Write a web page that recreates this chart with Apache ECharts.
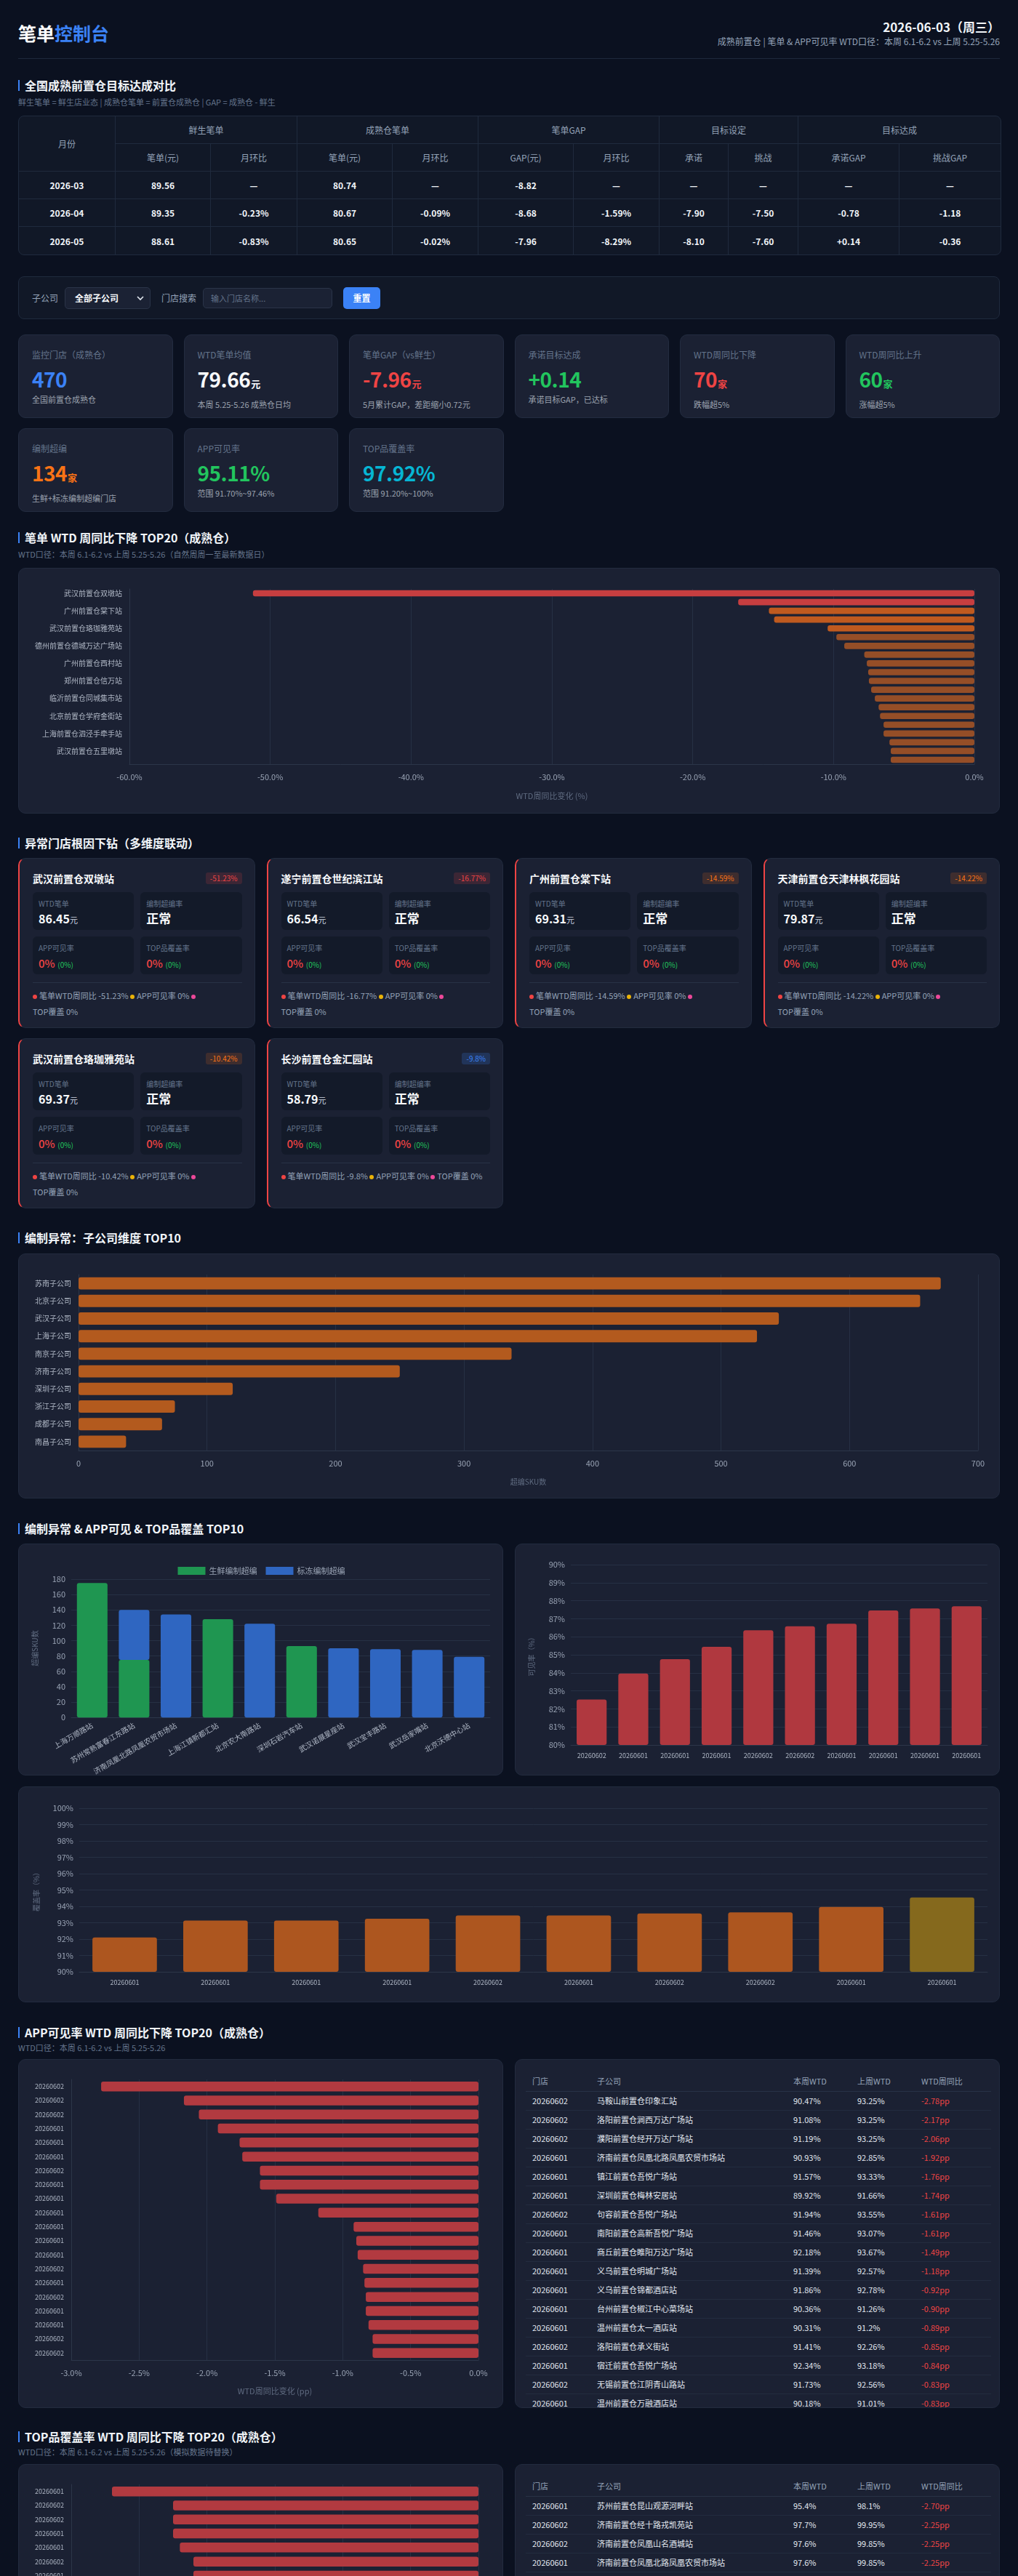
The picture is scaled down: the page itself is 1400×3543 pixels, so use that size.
<!DOCTYPE html>
<html lang="zh-CN">
<head>
<meta charset="utf-8">
<title>笔单控制台</title>
<script src="https://cdn.jsdelivr.net/npm/echarts@6/dist/echarts.min.js"></script>
<style>
*{box-sizing:border-box;margin:0;padding:0}
html,body{background:#0b1120}
body{width:1400px;height:3543px;overflow:hidden;padding:0 25px;font-family:"Noto Sans CJK SC","Noto Sans",sans-serif;color:#e5e7eb}
.header{height:81px;border-bottom:1px solid #1e293b;display:flex;justify-content:space-between}
.logo{padding-top:28px;font-size:25px;font-weight:700;line-height:34px;color:#fff}
.logo em{font-style:normal;color:#3b82f6}
.hright{text-align:right;padding-top:28px}
.hdate{font-size:17px;font-weight:700;line-height:18px;color:#f1f5f9}
.hsub{font-size:12px;line-height:14px;margin-top:4px;color:#94a3b8}
.sec{position:relative;font-size:16px;font-weight:700;line-height:20px;color:#f1f5f9;padding-left:9px}
.sec::before{content:"";position:absolute;left:0;top:3px;width:2px;height:15px;background:#3b82f6}
.sub{font-size:11px;line-height:14px;color:#64748b}
.panel{background:#1b2133;border:1px solid #222b3e;border-radius:10px;overflow:hidden}
.gtab{width:100%;border-collapse:separate;border-spacing:0;background:#111827;border:1px solid #1f2a3d;border-radius:8px;overflow:hidden;table-layout:fixed}
.gtab th,.gtab td{height:38px;text-align:center;border-right:1px solid #1f2a3d;border-bottom:1px solid #1f2a3d}
.gtab tr th:last-child,.gtab tr td:last-child{border-right:none}
.gtab tbody tr:last-child td{border-bottom:none}
.gtab th{font-size:12px;font-weight:400;color:#94a3b8}
.gtab td{font-size:12px;font-weight:700;color:#f1f5f9}
.filter{height:59px;background:#111827;border:1px solid #1f2a3d;border-radius:8px;display:flex;align-items:center;padding-left:18px}
.flabel{font-size:12px;color:#94a3b8}
.fselect{margin-left:9px;width:118px;height:30px;background:#1b2234;border:1px solid #2a3448;border-radius:5px;display:flex;align-items:center;justify-content:space-between;padding:0 8px 0 13px;font-size:12px;font-weight:700;color:#f8fafc}
.finput{margin-left:9px;width:178px;height:28px;background:#1b2234;border:1px solid #2a3448;border-radius:5px;display:flex;align-items:center;padding-left:10px;font-size:11px;color:#64748b}
.fbtn{margin-left:15px;width:51px;height:30px;background:#3b82f6;border-radius:5px;display:flex;align-items:center;justify-content:center;font-size:12px;font-weight:700;color:#fff}
.kpis{display:grid;grid-template-columns:repeat(6,1fr);gap:14px 15px}
.kpi{height:115px;background:#1b2133;border:1px solid #232c40;border-radius:10px;padding:19px 0 0 18px}
.kpi .kl{font-size:12px;line-height:16px;color:#64748b}
.kpi .kv{font-size:28px;font-weight:700;line-height:32px;margin-top:9px;letter-spacing:-0.5px}
.kpi .kv small{font-size:13px;font-weight:700;margin-left:1px}
.kpi .kn{font-size:11px;line-height:14px;margin-top:5px;color:#9ca3af}
.cards{display:grid;grid-template-columns:repeat(4,1fr);gap:14px 16px}
.card{height:234px;background:#1b2133;border:1px solid #222b3e;border-left:2px solid #ef4444;border-radius:10px;padding:17px 17px 0 18px}
.ctop{display:flex;justify-content:space-between;align-items:center;height:20px}
.ctitle{font-size:14px;font-weight:700;color:#f8fafc}
.badge{font-size:10px;line-height:16px;padding:0 6px;border-radius:3px}
.cgrid{display:grid;grid-template-columns:1fr 1fr;gap:9px;margin-top:9px}
.cbox{height:52px;background:#131a29;border-radius:6px;padding:10px 0 0 8px}
.cbox .bl{font-size:10px;line-height:12px;color:#64748b}
.cbox .bv{font-size:16px;font-weight:700;line-height:20px;margin-top:4px;color:#f8fafc}
.cbox .bv small{font-size:11px;font-weight:400;color:#cbd5e1}
.cbox .bv.big{font-size:17px}
.cbox .r{color:#ef4444;font-weight:500;font-size:15px}
.cbox .g{color:#22c55e;font-size:10px;font-weight:400}
.cfoot{margin-top:11px;border-top:1px solid #283246;padding-top:6px;font-size:11px;line-height:22px;color:#94a3b8}
.dot{display:inline-block;width:6px;height:6px;border-radius:50%;margin:0 3px 1px 0;vertical-align:middle}
.nw{white-space:nowrap}
.two{display:grid;grid-template-columns:1fr 1fr;gap:16px}
.ttab{width:100%;border-collapse:collapse;table-layout:fixed}
.ttab th{height:28px;text-align:left;font-size:11px;font-weight:400;color:#94a3b8;padding-left:9px;border-bottom:1px solid #283246}
.ttab td{height:26px;text-align:left;font-size:11px;color:#e2e8f0;padding-left:9px;border-bottom:1px solid #232c3f;white-space:nowrap}
.ttab td.neg{color:#ef4444}
</style>
</head>
<body>
<div class="header">
  <div class="logo">笔单<em>控制台</em></div>
  <div class="hright">
    <div class="hdate">2026-06-03（周三）</div>
    <div class="hsub">成熟前置仓 | 笔单 &amp; APP可见率 WTD口径：本周 6.1-6.2 vs 上周 5.25-5.26</div>
  </div>
</div>

<div class="sec" style="margin-top:26px">全国成熟前置仓目标达成对比</div>
<div class="sub" style="margin-top:6px">鲜生笔单 = 鲜生店业态 | 成熟仓笔单 = 前置仓成熟仓 | GAP = 成熟仓 - 鲜生</div>
<table class="gtab" id="goalTable" style="margin-top:12px">
  <colgroup><col style="width:133px"><col style="width:131px"><col style="width:119px"><col style="width:131px"><col style="width:118px"><col style="width:131px"><col style="width:118px"><col style="width:95px"><col style="width:96px"><col style="width:139px"><col style="width:139px"></colgroup>
  <thead></thead>
  <tbody></tbody>
</table>

<div class="filter" style="margin-top:29px">
  <span class="flabel">子公司</span>
  <div class="fselect">全部子公司<svg width="10" height="8" viewBox="0 0 10 8"><path d="M1 2 L5 6 L9 2" stroke="#e2e8f0" stroke-width="1.6" fill="none"/></svg></div>
  <span class="flabel" style="margin-left:15px">门店搜索</span>
  <div class="finput">输入门店名称...</div>
  <div class="fbtn">重置</div>
</div>

<div class="kpis" id="kpis" style="margin-top:21px"></div>

<div class="sec" style="margin-top:25px">笔单 WTD 周同比下降 TOP20（成熟仓）</div>
<div class="sub" style="margin-top:6px">WTD口径：本周 6.1-6.2 vs 上周 5.25-5.26（自然周周一至最新数据日）</div>
<div class="panel" style="margin-top:12px;height:338px"><div id="c1" style="width:1350px;height:338px"></div></div>

<div class="sec" style="margin-top:30px">异常门店根因下钻（多维度联动）</div>
<div class="cards" id="cards" style="margin-top:11px"></div>

<div class="sec" style="margin-top:30px">编制异常：子公司维度 TOP10</div>
<div class="panel" style="margin-top:12px;height:337px"><div id="c2" style="width:1350px;height:337px"></div></div>

<div class="sec" style="margin-top:31px">编制异常 &amp; APP可见 &amp; TOP品覆盖 TOP10</div>
<div class="two" style="margin-top:11px">
  <div class="panel" style="height:319px"><div id="c3" style="width:667px;height:319px"></div></div>
  <div class="panel" style="height:319px"><div id="c4" style="width:667px;height:319px"></div></div>
</div>
<div class="panel" style="margin-top:15px;height:297px"><div id="c5" style="width:1350px;height:297px"></div></div>

<div class="sec" style="margin-top:31px">APP可见率 WTD 周同比下降 TOP20（成熟仓）</div>
<div class="sub" style="margin-top:4px">WTD口径：本周 6.1-6.2 vs 上周 5.25-5.26</div>
<div class="two" style="margin-top:9px">
  <div class="panel" style="height:480px"><div id="c6" style="width:667px;height:480px"></div></div>
  <div class="panel" style="height:480px;padding:15px 14px 0"><table class="ttab" id="appTable"></table></div>
</div>

<div class="sec" style="margin-top:29px">TOP品覆盖率 WTD 周同比下降 TOP20（成熟仓）</div>
<div class="sub" style="margin-top:4px">WTD口径：本周 6.1-6.2 vs 上周 5.25-5.26（模拟数据待替换）</div>
<div class="two" style="margin-top:10px">
  <div class="panel" style="height:480px"><div id="c7" style="width:667px;height:480px"></div></div>
  <div class="panel" style="height:480px;padding:15px 14px 0"><table class="ttab" id="topTable"></table></div>
</div>

<script>
// ---- 目标达成对比 ----
var goalHead1 = ['鲜生笔单', '成熟仓笔单', '笔单GAP', '目标设定', '目标达成'];
var goalHead2 = ['笔单(元)', '月环比', '笔单(元)', '月环比', 'GAP(元)', '月环比', '承诺', '挑战', '承诺GAP', '挑战GAP'];
var goalMonths = ['2026-03', '2026-04', '2026-05'];
var freshOrder = ['89.56', '89.35', '88.61'];
var freshMom = ['—', '-0.23%', '-0.83%'];
var matureOrder = ['80.74', '80.67', '80.65'];
var matureMom = ['—', '-0.09%', '-0.02%'];
var gapValue = ['-8.82', '-8.68', '-7.96'];
var gapMom = ['—', '-1.59%', '-8.29%'];
var targetPromise = ['—', '-7.90', '-8.10'];
var targetChallenge = ['—', '-7.50', '-7.60'];
var promiseGap = ['—', '-0.78', '+0.14'];
var challengeGap = ['—', '-1.18', '-0.36'];

// ---- KPI ----
var kpiLabels = ['监控门店（成熟仓）', 'WTD笔单均值', '笔单GAP（vs鲜生）', '承诺目标达成', 'WTD周同比下降', 'WTD周同比上升', '编制超编', 'APP可见率', 'TOP品覆盖率'];
var kpiValues = ['470', '79.66', '-7.96', '+0.14', '70', '60', '134', '95.11%', '97.92%'];
var kpiUnits = ['', '元', '元', '', '家', '家', '家', '', ''];
var kpiNotes = ['全国前置仓成熟仓', '本周 5.25-5.26 成熟仓日均', '5月累计GAP，差距缩小0.72元', '承诺目标GAP，已达标', '跌幅超5%', '涨幅超5%', '生鲜+标冻编制超编门店', '范围 91.70%~97.46%', '范围 91.20%~100%'];
var kpiColors = ['#3b82f6', '#f8fafc', '#ef4444', '#22c55e', '#ef4444', '#22c55e', '#f97316', '#22c55e', '#06b6d4'];

// ---- 笔单 WTD 周同比下降 TOP20 ----
var wtdStores = ['武汉前置仓双墩站', '遂宁前置仓世纪滨江站', '广州前置仓棠下站', '天津前置仓天津林枫花园站', '武汉前置仓珞珈雅苑站', '长沙前置仓金汇园站', '德州前置仓德城万达广场站', '成都前置仓高新站', '广州前置仓西村站', '南京前置仓河西站', '郑州前置仓信万站', '济南前置仓历下站', '临沂前置仓同城集市站', '苏州前置仓园区站', '北京前置仓学府金街站', '深圳前置仓南山站', '上海前置仓泗泾手牵手站', '杭州前置仓滨江站', '武汉前置仓五里墩站', '西安前置仓雁塔站'];
var wtdChange = [-51.23, -16.77, -14.59, -14.22, -10.42, -9.8, -9.24, -7.82, -7.64, -7.54, -7.49, -7.33, -7.07, -6.80, -6.70, -6.45, -6.45, -6.03, -5.94, -5.94];

// ---- 异常门店根因下钻 ----
var alertStores = ['武汉前置仓双墩站', '遂宁前置仓世纪滨江站', '广州前置仓棠下站', '天津前置仓天津林枫花园站', '武汉前置仓珞珈雅苑站', '长沙前置仓金汇园站'];
var alertChange = [-51.23, -16.77, -14.59, -14.22, -10.42, -9.8];
var alertWtd = ['86.45', '66.54', '69.31', '79.87', '69.37', '58.79'];
var alertStaff = ['正常', '正常', '正常', '正常', '正常', '正常'];
var alertApp = ['0%', '0%', '0%', '0%', '0%', '0%'];
var alertTop = ['0%', '0%', '0%', '0%', '0%', '0%'];

// ---- 编制异常：子公司 TOP10 ----
var subCompanies = ['苏南子公司', '北京子公司', '武汉子公司', '上海子公司', '南京子公司', '济南子公司', '深圳子公司', '浙江子公司', '成都子公司', '南昌子公司'];
var subOverSku = [671, 655, 545, 528, 337, 250, 120, 75, 65, 37];

// ---- 编制超编门店 TOP10 ----
var overStores = ['上海万顺路站', '苏州常熟富春江东路站', '济南凤凰北路凤凰农贸市场站', '上海江镇新都汇站', '北京农大南路站', '深圳石岩汽车站', '武汉诺展星座站', '武汉宝丰路站', '武汉岳家嘴站', '北京沃德中心站'];
var overFresh = [175, 75, '-', 128, '-', 93, '-', '-', '-', '-'];
var overFrozen = ['-', 65, 134, '-', 122, '-', 90, 89, 88, 79];

// ---- APP可见率 TOP10（最低）----
var appLowDates = ['20260602', '20260601', '20260601', '20260601', '20260602', '20260602', '20260601', '20260601', '20260601', '20260601'];
var appLowRates = [82.52, 83.96, 84.76, 85.44, 86.36, 86.58, 86.72, 87.46, 87.57, 87.69];

// ---- TOP品覆盖率 TOP10（最低）----
var topLowDates = ['20260601', '20260601', '20260601', '20260601', '20260602', '20260601', '20260602', '20260602', '20260601', '20260601'];
var topLowRates = [92.10, 93.13, 93.13, 93.25, 93.45, 93.45, 93.57, 93.63, 93.97, 94.54];

// ---- APP可见率 WTD 周同比下降 TOP20 ----
var appDates = ['20260602', '20260602', '20260602', '20260601', '20260601', '20260601', '20260602', '20260601', '20260601', '20260601', '20260601', '20260601', '20260601', '20260602', '20260601', '20260602', '20260601', '20260601', '20260602', '20260602'];
var appStores = ['马鞍山前置仓印象汇站', '洛阳前置仓涧西万达广场站', '濮阳前置仓经开万达广场站', '济南前置仓凤凰北路凤凰农贸市场站', '镇江前置仓吾悦广场站', '深圳前置仓梅林安居站', '句容前置仓吾悦广场站', '南阳前置仓高新吾悦广场站', '商丘前置仓睢阳万达广场站', '义乌前置仓明城广场站', '义乌前置仓锦都酒店站', '台州前置仓椒江中心菜场站', '温州前置仓太一酒店站', '洛阳前置仓承义街站', '宿迁前置仓吾悦广场站', '无锡前置仓江阴青山路站', '温州前置仓万融酒店站', '徐州前置仓云龙万达站', '郑州前置仓金水路站', '合肥前置仓之心城站'];
var appThisWeek = [90.47, 91.08, 91.19, 90.93, 91.57, 89.92, 91.94, 91.46, 92.18, 91.39, 91.86, 90.36, 90.31, 91.41, 92.34, 91.73, 90.18, 91.55, 92.02, 91.20];
var appLastWeek = [93.25, 93.25, 93.25, 92.85, 93.33, 91.66, 93.55, 93.07, 93.67, 92.57, 92.78, 91.26, 91.2, 92.26, 93.18, 92.56, 91.01, 92.36, 92.80, 91.98];
var appChange = [-2.78, -2.17, -2.06, -1.92, -1.76, -1.74, -1.61, -1.61, -1.49, -1.18, -0.92, -0.90, -0.89, -0.85, -0.84, -0.83, -0.83, -0.81, -0.78, -0.78];

// ---- TOP品覆盖率 WTD 周同比下降 TOP20 ----
var topDates = ['20260601', '20260602', '20260602', '20260601', '20260601', '20260602', '20260601', '20260602', '20260601', '20260601', '20260602', '20260601', '20260601', '20260602', '20260601', '20260601', '20260602', '20260601', '20260601', '20260602'];
var topStores = ['苏州前置仓昆山观源河畔站', '济南前置仓经十路戎凯苑站', '济南前置仓凤凰山名酒城站', '济南前置仓凤凰北路凤凰农贸市场站', '徐州前置仓泉山万达广场站', '济南前置仓高新万达站', '苏州前置仓吴中万达站'];
var topThisWeek = [95.4, 97.7, 97.6, 97.6, 97.4, 97.8, 97.5];
var topLastWeek = [98.1, 99.95, 99.85, 99.85, 99.6, 99.9, 99.6];
var topChange = [-2.70, -2.25, -2.25, -2.25, -2.20, -2.10, -2.10, -2.05, -2.00, -1.96, -1.90, -1.85, -1.82, -1.80, -1.76, -1.72, -1.70, -1.66, -1.62, -1.60];

// ================= tables / cards =================
(function () {
	var t = document.getElementById('goalTable');
	var h = '<tr><th rowspan="2">月份</th>';
	goalHead1.forEach(function (s) { h += '<th colspan="2">' + s + '</th>'; });
	h += '</tr><tr>';
	goalHead2.forEach(function (s) { h += '<th>' + s + '</th>'; });
	t.tHead.innerHTML = h + '</tr>';
	var b = '';
	for (var i = 0; i < goalMonths.length; i++) {
		var cells = [goalMonths[i], freshOrder[i], freshMom[i], matureOrder[i], matureMom[i], gapValue[i], gapMom[i], targetPromise[i], targetChallenge[i], promiseGap[i], challengeGap[i]];
		b += '<tr>' + cells.map(function (c) { return '<td>' + c + '</td>'; }).join('') + '</tr>';
	}
	t.tBodies[0].innerHTML = b;

	var k = '';
	for (var j = 0; j < kpiLabels.length; j++) {
		k += '<div class="kpi"><div class="kl">' + kpiLabels[j] + '</div>' +
			'<div class="kv" style="color:' + kpiColors[j] + '">' + kpiValues[j] + (kpiUnits[j] ? '<small>' + kpiUnits[j] + '</small>' : '') + '</div>' +
			'<div class="kn">' + kpiNotes[j] + '</div></div>';
	}
	document.getElementById('kpis').innerHTML = k;

	var c = '';
	for (var n = 0; n < alertStores.length; n++) {
		var v = alertChange[n];
		var bc = v <= -15 ? ['#ef4444', 'rgba(239,68,68,0.16)'] : (v <= -10 ? ['#f97316', 'rgba(249,115,22,0.16)'] : ['#3b82f6', 'rgba(59,130,246,0.2)']);
		var pct = v + '%';
		c += '<div class="card"><div class="ctop"><span class="ctitle">' + alertStores[n] + '</span>' +
			'<span class="badge" style="color:' + bc[0] + ';background:' + bc[1] + '">' + pct + '</span></div>' +
			'<div class="cgrid">' +
			'<div class="cbox"><div class="bl">WTD笔单</div><div class="bv">' + alertWtd[n] + '<small>元</small></div></div>' +
			'<div class="cbox"><div class="bl">编制超编率</div><div class="bv big">' + alertStaff[n] + '</div></div>' +
			'<div class="cbox"><div class="bl">APP可见率</div><div class="bv"><span class="r">' + alertApp[n] + '</span> <span class="g">(0%)</span></div></div>' +
			'<div class="cbox"><div class="bl">TOP品覆盖率</div><div class="bv"><span class="r">' + alertTop[n] + '</span> <span class="g">(0%)</span></div></div>' +
			'</div><div class="cfoot">' +
			'<i class="dot" style="background:#ef4444"></i>笔单WTD周同比 ' + pct + ' ' +
			'<i class="dot" style="background:#eab308"></i>APP可见率 ' + alertApp[n] + ' ' +
			'<i class="dot" style="background:#ec4899"></i><span class="nw">TOP覆盖 ' + alertTop[n] + '</span></div></div>';
	}
	document.getElementById('cards').innerHTML = c;

	function fillTable(id, dates, stores, thisW, lastW, change) {
		var s = '<colgroup><col style="width:89px"><col style="width:270px"><col style="width:88px"><col style="width:88px"><col style="width:105px"></colgroup>' +
			'<tr><th>门店</th><th>子公司</th><th>本周WTD</th><th>上周WTD</th><th>WTD周同比</th></tr>';
		for (var i = 0; i < stores.length; i++) {
			s += '<tr><td>' + dates[i] + '</td><td>' + stores[i] + '</td><td>' + thisW[i] + '%</td><td>' + lastW[i] + '%</td><td class="neg">' + change[i].toFixed(2) + 'pp</td></tr>';
		}
		document.getElementById(id).innerHTML = s;
	}
	fillTable('appTable', appDates, appStores, appThisWeek, appLastWeek, appChange);
	fillTable('topTable', topDates, topStores, topThisWeek, topLastWeek, topChange);
})();

// ================= charts =================
var labelColor = '#9aa4b5',
	nameColor = '#5f6b80',
	splitColor = '#263044',
	axisColor = '#2c3649';

function render(id, option) {
	var chart = echarts.init(document.getElementById(id));
	option.animation = false;
	option.textStyle = { fontFamily: 'Noto Sans CJK SC' };
	chart.setOption(option);
	return chart;
}

function dropColor(v) {
	return v <= -15 ? '#c73e40' : (v <= -10 ? '#bf5a1f' : '#954e27');
}

render('c1', {
	grid: { left: 152, right: 36, top: 28, bottom: 69 },
	xAxis: {
		type: 'value', min: -60, max: 0, interval: 10,
		name: 'WTD周同比变化 (%)', nameLocation: 'middle', nameGap: 38,
		nameTextStyle: { color: nameColor, fontSize: 11 },
		axisLabel: { color: labelColor, fontSize: 11, margin: 12, formatter: function (v) { return v.toFixed(1) + '%'; } },
		axisLine: { show: true, lineStyle: { color: axisColor } },
		splitLine: { lineStyle: { color: splitColor } }
	},
	yAxis: {
		type: 'category', inverse: true, data: wtdStores,
		axisLabel: { interval: 1, color: '#aeb6c4', fontSize: 10, margin: 10 },
		axisTick: { show: false },
		axisLine: { onZero: false, lineStyle: { color: axisColor } }
	},
	series: [{
		type: 'bar', barWidth: '72%',
		data: wtdChange.map(function (v) { return { value: v, itemStyle: { color: dropColor(v) } }; }),
		itemStyle: { borderRadius: 3 }
	}]
});

render('c2', {
	grid: { left: 82, right: 31, top: 28, bottom: 67 },
	xAxis: {
		type: 'value', min: 0, max: 700, interval: 100,
		name: '超编SKU数', nameLocation: 'middle', nameGap: 38,
		nameTextStyle: { color: nameColor, fontSize: 10 },
		axisLabel: { color: labelColor, fontSize: 11, margin: 12 },
		axisLine: { show: true, lineStyle: { color: axisColor } },
		splitLine: { lineStyle: { color: splitColor } }
	},
	yAxis: {
		type: 'category', inverse: true, data: subCompanies,
		axisLabel: { color: '#aeb6c4', fontSize: 10, margin: 10 },
		axisTick: { show: false },
		axisLine: { lineStyle: { color: axisColor } }
	},
	series: [{ type: 'bar', data: subOverSku, barWidth: '70%', itemStyle: { color: '#b35a1e', borderRadius: 3 } }]
});

render('c3', {
	legend: {
		top: 26, left: 'center', itemWidth: 38, itemHeight: 11, itemGap: 12, icon: 'rect',
		textStyle: { color: labelColor, fontSize: 11 }
	},
	grid: { left: 72, right: 19, top: 48, bottom: 79 },
	xAxis: {
		type: 'category', data: overStores,
		axisLabel: { interval: 0, rotate: 30, color: '#aeb6c4', fontSize: 10, margin: 10 },
		axisTick: { show: false },
		axisLine: { lineStyle: { color: axisColor } }
	},
	yAxis: {
		type: 'value', min: 0, max: 180, interval: 20,
		name: '超编SKU数', nameLocation: 'middle', nameGap: 45, nameRotate: 90,
		nameTextStyle: { color: nameColor, fontSize: 10 },
		axisLabel: { color: labelColor, fontSize: 11 },
		splitLine: { lineStyle: { color: splitColor } }
	},
	series: [
		{ name: '生鲜编制超编', type: 'bar', stack: 'over', data: overFresh, barWidth: '73%', itemStyle: { color: '#1f9651', borderRadius: 3 } },
		{ name: '标冻编制超编', type: 'bar', stack: 'over', data: overFrozen, barWidth: '73%', itemStyle: { color: '#2f66c1', borderRadius: 3 } }
	]
});

render('c4', {
	grid: { left: 76, right: 18, top: 28, bottom: 43 },
	xAxis: {
		type: 'category', data: appLowDates,
		axisLabel: { interval: 0, color: '#aeb6c4', fontSize: 9, margin: 10 },
		axisTick: { show: false },
		axisLine: { lineStyle: { color: axisColor } }
	},
	yAxis: {
		type: 'value', min: 80, max: 90, interval: 1,
		name: '可见率（%）', nameLocation: 'middle', nameGap: 49, nameRotate: 90,
		nameTextStyle: { color: nameColor, fontSize: 10 },
		axisLabel: { color: labelColor, fontSize: 11, formatter: '{value}%' },
		splitLine: { lineStyle: { color: splitColor } }
	},
	series: [{ type: 'bar', data: appLowRates, barWidth: '72%', itemStyle: { color: '#b0383f', borderRadius: 3 } }]
});

render('c5', {
	grid: { left: 83, right: 18, top: 29, bottom: 43 },
	xAxis: {
		type: 'category', data: topLowDates,
		axisLabel: { interval: 0, color: '#aeb6c4', fontSize: 9, margin: 10 },
		axisTick: { show: false },
		axisLine: { lineStyle: { color: axisColor } }
	},
	yAxis: {
		type: 'value', min: 90, max: 100, interval: 1,
		name: '覆盖率（%）', nameLocation: 'middle', nameGap: 54, nameRotate: 90,
		nameTextStyle: { color: nameColor, fontSize: 10 },
		axisLabel: { color: labelColor, fontSize: 11, formatter: '{value}%' },
		splitLine: { lineStyle: { color: splitColor } }
	},
	series: [{
		type: 'bar', barWidth: '71%',
		data: topLowRates.map(function (v) { return { value: v, itemStyle: { color: v >= 94.5 ? '#85691d' : '#ad561f' } }; }),
		itemStyle: { borderRadius: 3 }
	}]
});

function ppBar(id, dates, values) {
	return render(id, {
		grid: { left: 72, right: 35, top: 27, bottom: 67 },
		xAxis: {
			type: 'value', min: -3, max: 0, interval: 0.5,
			name: 'WTD周同比变化 (pp)', nameLocation: 'middle', nameGap: 37,
			nameTextStyle: { color: nameColor, fontSize: 11 },
			axisLabel: { color: labelColor, fontSize: 11, margin: 12, formatter: function (v) { return v.toFixed(1) + '%'; } },
			axisLine: { show: true, lineStyle: { color: axisColor } },
			splitLine: { lineStyle: { color: splitColor } }
		},
		yAxis: {
			type: 'category', inverse: true, data: dates,
			axisLabel: { interval: 0, color: '#aeb6c4', fontSize: 9, margin: 10 },
			axisTick: { show: false },
			axisLine: { onZero: false, lineStyle: { color: axisColor } }
		},
		series: [{ type: 'bar', data: values, barWidth: '70%', itemStyle: { color: '#b23a40', borderRadius: 3 } }]
	});
}
ppBar('c6', appDates, appChange);
ppBar('c7', topDates, topChange);
</script>
</body>
</html>
